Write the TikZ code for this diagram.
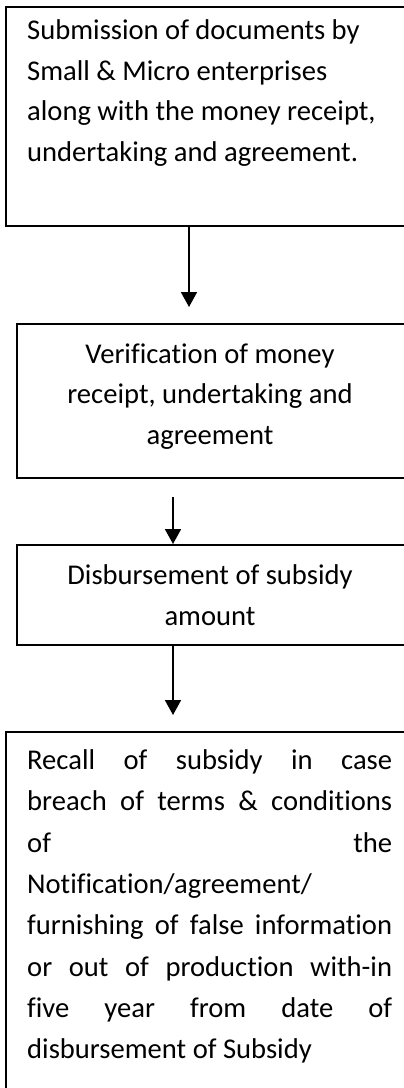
\documentclass[tikz,border=0pt]{standalone}
\usepackage{fontspec}
\setmainfont{Carlito}[Ligatures=NoCommon]
\usetikzlibrary{arrows.meta}

\tikzset{
  box/.style = {draw, line width=1.6pt, anchor=north west, inner sep=0pt},
  flow/.style = {line width=1.8pt, -{Triangle[width=16pt,length=15pt]}},
  txt/.style = {inner sep=0pt, font=\fontsize{28.6pt}{40.5pt}\selectfont}
}

\begin{document}
\begin{tikzpicture}[x=1pt, y=-1pt]
  \useasboundingbox (0,0) rectangle (404,1088);
  \clip (0,0) rectangle (404,1088);

  % boxes
  \node [box, minimum width=420pt, minimum height=219pt] (submit) at (5,6) {};
  \node [box, minimum width=390pt, minimum height=154pt] (verify) at (16,323) {};
  \node [box, minimum width=390pt, minimum height=100pt] (disb) at (16,544) {};
  \node [box, minimum width=420pt, minimum height=400pt] (recall) at (5,731) {};

  % texts
  \node [txt, anchor=north west, align=left] (submittxt) at (27,19.5)
    {Submission of documents by\\Small \& Micro enterprises\\along with the money receipt,\\undertaking and agreement.};
  \node [txt, anchor=north, align=center] (verifytxt) at (210,343.5)
    {Verification of money\\receipt, undertaking and\\agreement};
  \node [txt, anchor=north, align=center] (disbtxt) at (210,564.5)
    {Disbursement of subsidy\\amount};
  \node [txt, anchor=north west, text width=365pt, align=justify,
         font=\fontsize{28.6pt}{41.3pt}\selectfont] (recalltxt) at (27,749.5)
    {Recall of subsidy in case\linebreak
     breach of terms \& conditions\linebreak
     of the\linebreak
     Notification/agreement/\newline
     furnishing of false information\linebreak
     or out of production with-in\linebreak
     five year from date of\linebreak
     disbursement of Subsidy};

  % arrows
  \coordinate (a1) at (189,307);
  \coordinate (a2) at (173,497);
  \coordinate (a3) at (173,715);
  \draw [flow] (submit.south -| a1) -- (a1);
  \draw [flow] (a2) -- (a2 |- disb.north);
  \draw [flow] (a3 |- disb.south) -- (a3);
\end{tikzpicture}
\end{document}
